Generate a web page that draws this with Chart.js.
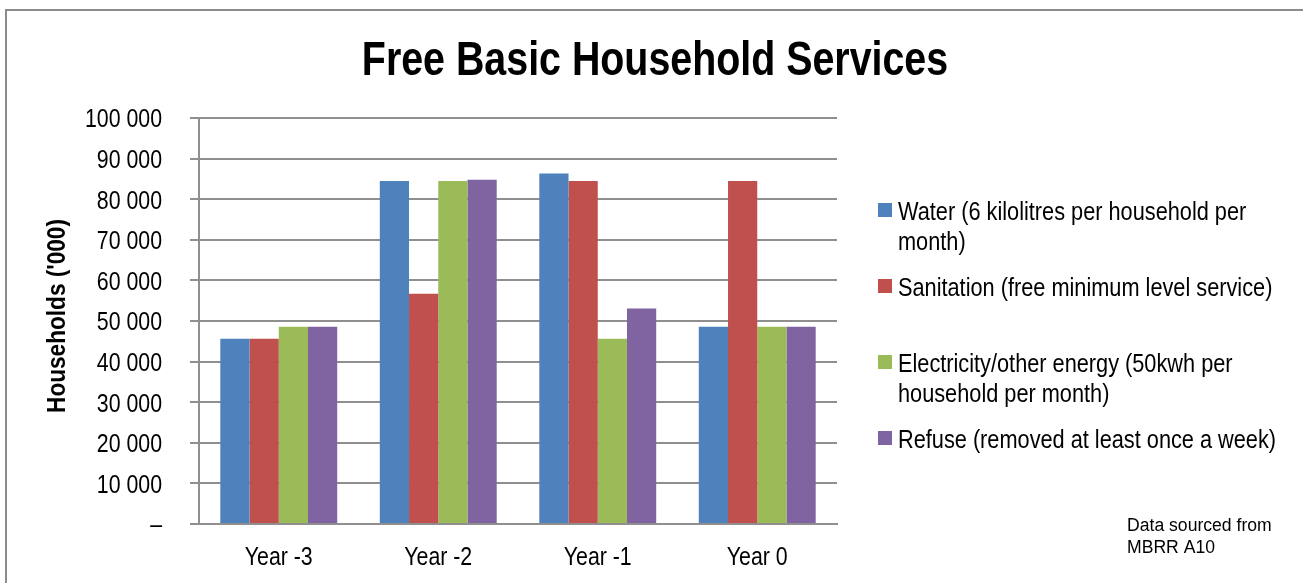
<!DOCTYPE html>
<html>
<head>
<meta charset="utf-8">
<script src="https://cdn.jsdelivr.net/npm/chart.js@4.4.0/dist/chart.umd.min.js"></script>
<style>
  html, body { margin: 0; padding: 0; background: #ffffff; }
  #wrap { position: relative; width: 1303px; height: 583px; }
</style>
</head>
<body>
<div id="wrap"><canvas id="c" width="1303" height="583"></canvas></div>
<script>
// Household counts per year for each free basic service
const categories = ["Year -3", "Year -2", "Year -1", "Year 0"];
const water = [45600, 84500, 86300, 48600];
const sanitation = [45600, 56700, 84500, 84500];
const electricity = [48600, 84500, 45600, 48600];
const refuse = [48600, 84800, 53100, 48600];
const seriesNames = [
  "Water (6 kilolitres per household per\nmonth)",
  "Sanitation (free minimum level service)",
  "Electricity/other energy (50kwh per\nhousehold per month)",
  "Refuse (removed at least once a week)"
];
const yTicks = [0, 10000, 20000, 30000, 40000, 50000, 60000, 70000, 80000, 90000, 100000];
const chartTitle = "Free Basic Household Services";
const yTitle = "Households ('000)";
const sourceNote = ["Data sourced from", "MBRR A10"];

const FONT = "'Liberation Sans', Arial, sans-serif";
const NARROW = 0.82;            // horizontal squeeze giving a narrow typeface
const colors = ["#4F81BD", "#C0504D", "#9BBB59", "#8064A2"];
const gridColor = "#8f8f8f";

function fmt(v) {
  if (v === 0) return "\u2013";
  return String(v).replace(/\B(?=(\d{3})+(?!\d))/g, " ");
}

// draw condensed text: anchor (x, y) on the alphabetic baseline
function narrowText(ctx, text, x, y, font, align, sx) {
  ctx.save();
  ctx.font = font;
  ctx.textAlign = align;
  ctx.textBaseline = "alphabetic";
  ctx.translate(x, y);
  ctx.scale(sx || NARROW, 1);
  ctx.fillText(text, 0, 0);
  ctx.restore();
}

// Frame, title, axis text, legend and source note
const decorations = {
  id: "decorations",
  beforeDraw(chart) {
    const ctx = chart.ctx;
    ctx.save();
    ctx.strokeStyle = "#8c8c8c";
    ctx.lineWidth = 2;
    ctx.beginPath();
    ctx.moveTo(6, 590);
    ctx.lineTo(6, 10);
    ctx.lineTo(1310, 10);
    ctx.stroke();
    ctx.restore();
  },
  afterDraw(chart) {
    const ctx = chart.ctx;
    ctx.save();
    ctx.fillStyle = "#000000";

    // title
    narrowText(ctx, chartTitle, 655, 75, "bold 48px " + FONT, "center");

    // y tick labels
    const ys = chart.scales.y;
    ys.ticks.forEach(t => {
      const py = ys.getPixelForValue(t.value);
      narrowText(ctx, fmt(t.value), 162, py + 9.3, "26px " + FONT, "right");
    });

    // x category labels
    const xs = chart.scales.x;
    chart.data.labels.forEach((lab, i) => {
      narrowText(ctx, lab, xs.getPixelForValue(i), 565, "26px " + FONT, "center");
    });

    // y axis title
    ctx.save();
    ctx.translate(65, 316);
    ctx.rotate(-Math.PI / 2);
    narrowText(ctx, yTitle, 0, 0, "bold 26px " + FONT, "center", 0.87);
    ctx.restore();

    // legend
    chart.data.datasets.forEach((ds, i) => {
      const mid = 210 + i * 76;
      ctx.fillStyle = ds.backgroundColor;
      ctx.fillRect(878, mid - 7, 14, 14);
      ctx.fillStyle = "#000000";
      ds.label.split("\n").forEach((line, j) => {
        narrowText(ctx, line, 898, mid + j * 30 + 9.5, "26.5px " + FONT, "left");
      });
    });

    // source note
    ctx.font = "17.6px " + FONT;
    ctx.textAlign = "left";
    ctx.textBaseline = "middle";
    sourceNote.forEach((line, j) => ctx.fillText(line, 1127, 526 + j * 22));
    ctx.restore();
  }
};

const datasets = [water, sanitation, electricity, refuse].map((vals, i) => ({
  label: seriesNames[i],
  data: vals,
  backgroundColor: colors[i],
  borderWidth: 0,
  categoryPercentage: 0.733,
  barPercentage: 1.0
}));

new Chart(document.getElementById("c"), {
  type: "bar",
  data: { labels: categories, datasets },
  options: {
    responsive: false,
    animation: false,
    layout: { padding: { left: 0, right: 466, top: 118, bottom: 0 } },
    plugins: {
      legend: { display: false },
      tooltip: { enabled: false },
      title: { display: false }
    },
    scales: {
      x: {
        grid: { display: false, drawTicks: false },
        border: { display: true, color: gridColor, width: 2 },
        ticks: { display: false },
        afterFit(scale) { scale.height = 59; }
      },
      y: {
        min: 0,
        max: 100000,
        afterBuildTicks(scale) { scale.ticks = yTicks.map(v => ({ value: v })); },
        grid: { color: gridColor, lineWidth: 2, tickLength: 9, drawTicks: true },
        border: { display: true, color: gridColor, width: 2 },
        ticks: { display: false },
        afterFit(scale) { scale.width = 199; }
      }
    }
  },
  plugins: [decorations]
});
</script>
</body>
</html>
